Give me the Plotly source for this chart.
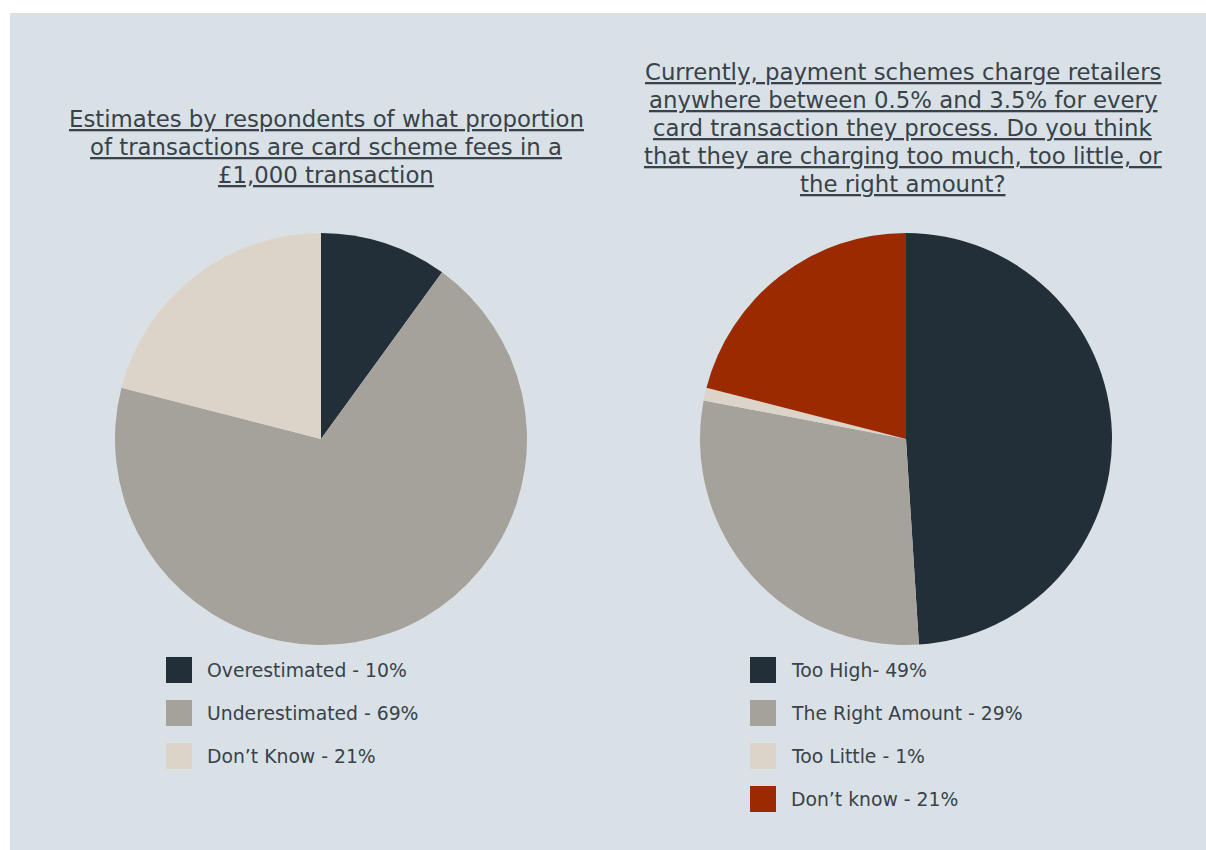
import plotly.graph_objects as go

W, H = 1206, 850

# ---- data ----
left_labels = ["Overestimated", "Underestimated", "Don\u2019t Know"]
left_values = [10, 69, 21]
left_legend = ["Overestimated - 10%", "Underestimated - 69%", "Don\u2019t Know - 21%"]

right_labels = ["Too High", "The Right Amount", "Too Little", "Don\u2019t know"]
right_values = [49, 29, 1, 21]
right_legend = ["Too High- 49%", "The Right Amount - 29%", "Too Little - 1%", "Don\u2019t know - 21%"]

left_title = ["Estimates by respondents of what proportion",
              "of transactions are card scheme fees in a",
              "\u00a31,000 transaction"]
right_title = ["Currently, payment schemes charge retailers",
               "anywhere between 0.5% and 3.5% for every",
               "card transaction they process. Do you think",
               "that they are charging too much, too little, or",
               "the right amount?"]

# ---- styles ----
left_colors = ["#232f38", "#a5a29b", "#dcd4c8"]
right_colors = ["#232f38", "#a5a29b", "#dcd4c8", "#9c2a00"]
BG = "#d9e1e6"
TXT = "#384248"
FONT = "DejaVu Sans"


def px(x):
    return x / W


def py(y):
    return 1 - y / H


R = 206
fig = go.Figure()
for cx, labels, values, colors in [(321, left_labels, left_values, left_colors),
                                   (906, right_labels, right_values, right_colors)]:
    fig.add_trace(go.Pie(
        labels=labels, values=values, sort=False, direction="clockwise",
        rotation=0, textinfo="none", hoverinfo="label+percent",
        marker=dict(colors=colors, line=dict(width=0)),
        showlegend=False,
        domain=dict(x=[px(cx - R), px(cx + R)], y=[py(439 + R), py(439 - R)]),
    ))

shapes = [dict(type="rect", xref="paper", yref="paper", x0=px(10), x1=1, y0=0, y1=py(13),
               fillcolor=BG, line=dict(width=0), layer="below")]
annotations = []
for cx, y0, lines in [(326, 119, left_title), (903, 72, right_title)]:
    for i, line in enumerate(lines):
        annotations.append(dict(
            text="<u>" + line + "</u>", x=px(cx), y=py(y0 + 28 * i),
            xref="paper", yref="paper", xanchor="center", yanchor="middle",
            showarrow=False, font=dict(family=FONT, size=22.8, color=TXT)))

for x0, items, colors in [(166, left_legend, left_colors), (750, right_legend, right_colors)]:
    for i, (t, c) in enumerate(zip(items, colors)):
        yc = 670 + 43 * i
        shapes.append(dict(type="rect", xref="paper", yref="paper",
                           x0=px(x0), x1=px(x0 + 26), y0=py(yc + 13), y1=py(yc - 13),
                           fillcolor=c, line=dict(width=0)))
        annotations.append(dict(text=t, x=px(x0 + 39), y=py(yc), xref="paper", yref="paper",
                                xanchor="left", yanchor="middle", showarrow=False,
                                font=dict(family=FONT, size=18.8, color=TXT)))

fig.update_layout(
    width=W, height=H, margin=dict(l=0, r=0, t=0, b=0),
    paper_bgcolor="white", plot_bgcolor="white",
    shapes=shapes, annotations=annotations,
)
fig.write_html("out.html")
